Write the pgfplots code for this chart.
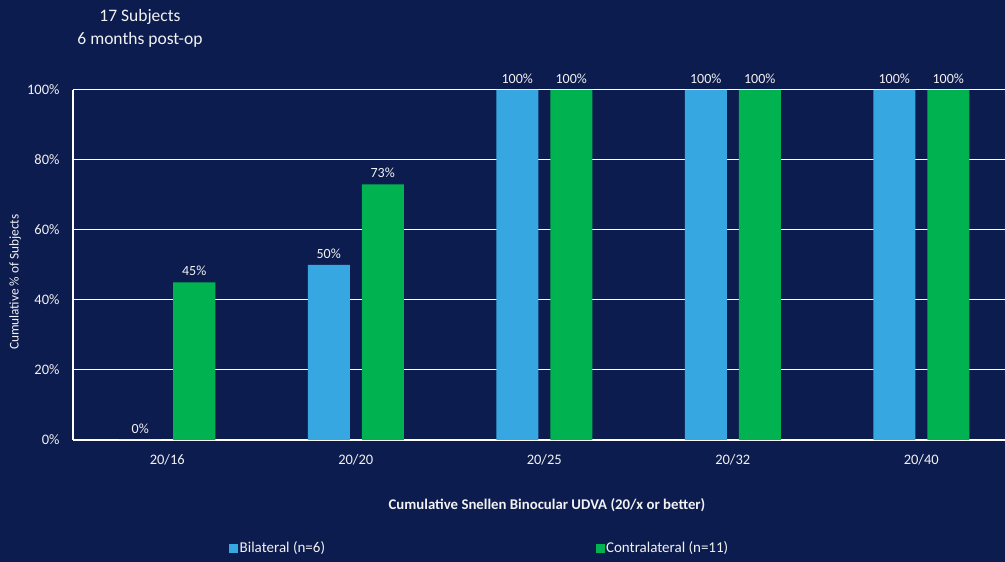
\documentclass[border=0pt]{standalone}
\usepackage{pgfplots}
\pgfplotsset{compat=1.18}
\usetikzlibrary{calc,backgrounds}
\usepackage{fontspec}
\setmainfont{Carlito}
\definecolor{bg}{HTML}{0D1C4E}
\definecolor{barblue}{HTML}{36A7E0}
\definecolor{bargreen}{HTML}{00B250}
\definecolor{txt}{HTML}{F2F2F2}
\pgfplotsset{sq legend/.style={legend image code/.code={\fill[##1] (0pt,-4.5pt) rectangle (9pt,4.5pt);}}}
\begin{document}
\begin{tikzpicture}[x=1pt,y=1pt]
\begin{axis}[
  scale only axis, width=942.5pt, height=350pt,
  xmin=-0.5, xmax=4.5, ymin=0, ymax=100,
  clip=false,
  xtick={0,...,4}, xticklabels={20/16,20/20,20/25,20/32,20/40},
  ytick={0,20,...,100}, yticklabel={\pgfmathprintnumber{\tick}\%},
  /pgf/number format/assume math mode=true,
  ymajorgrids, grid style={white, line width=1pt},
  axis x line*=bottom, axis y line*=left,
  axis line style={white, line width=1.3pt, -},
  major tick length=0pt,
  ticklabel style={text=txt, font=\fontsize{14.5}{17}\selectfont},
  xticklabel style={yshift=-11pt},
  yticklabel style={xshift=-10pt},
  ybar=12pt, bar width=42pt,
  nodes near coords={\pgfmathprintnumber{\pgfplotspointmeta}\%},
  every node near coord/.append style={text=txt, font=\fontsize{14}{17}\selectfont, yshift=3pt},
  xlabel={\textbf{Cumulative Snellen Binocular UDVA (20/x or better)}},
  ylabel={Cumulative \% of Subjects},
  every axis x label/.style={at={(axis description cs:0.5029,0)}, anchor=center, yshift=-65pt,
    text=txt, font=\fontsize{14.8}{17}\selectfont},
  every axis y label/.style={at={(axis description cs:-0.0615,0.451)}, rotate=90, anchor=center,
    text=txt, font=\fontsize{13.3}{16}\selectfont},
  legend columns=2,
  legend style={at={(axis description cs:0.1655,-0.309)}, anchor=west, draw=none, fill=none,
    text=txt, font=\fontsize{15}{17}\selectfont, inner sep=0pt, cells={anchor=west},
    nodes={inner sep=1.5pt},
    /tikz/every even column/.append style={column sep=269pt}},
]
\addplot[fill=barblue, draw=none, sq legend] coordinates {(0,0) (1,50) (2,100) (3,100) (4,100)};
\addplot[fill=bargreen, draw=none, sq legend] coordinates {(0,45) (1,73) (2,100) (3,100) (4,100)};
\legend{Bilateral (n=6), Contralateral (n=11)}
\coordinate (O) at (rel axis cs:0,0);
\end{axis}
\begin{pgfonlayer}{background}
\fill[bg] ($(O)+(-73,-122)$) rectangle ++(1005,562);
\end{pgfonlayer}
\node[text=txt, font=\fontsize{17.5}{23}\selectfont, align=center] at ($(O)+(67,411.5)$) {17 Subjects\\6 months post-op};
\pgfresetboundingbox
\useasboundingbox ($(O)+(-73,-122)$) rectangle ++(1005,562);
\end{tikzpicture}
\end{document}
